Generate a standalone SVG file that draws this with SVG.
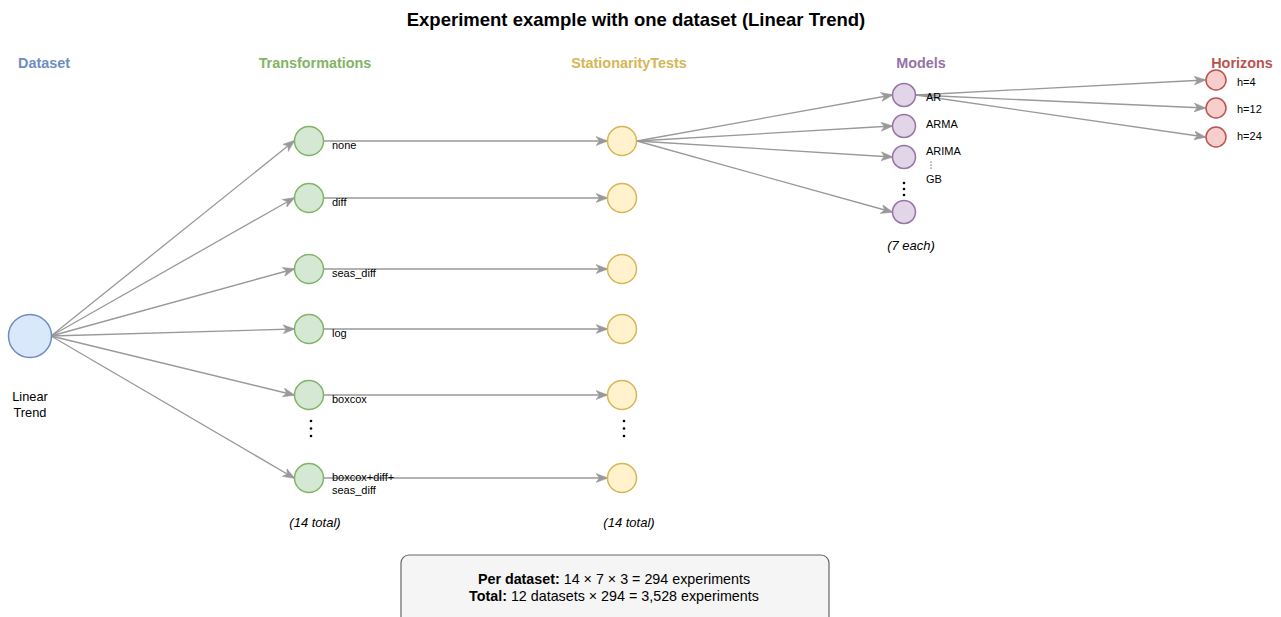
<svg xmlns="http://www.w3.org/2000/svg" width="1281" height="617" viewBox="0 0 1281 617">
<style>
text{font-family:"Liberation Sans",Arial,sans-serif;}
.hdr{font-size:14.4px;font-weight:bold;text-anchor:middle;}
.lbl{font-size:11px;fill:#000;}
.e{stroke:#999;stroke-width:1.3;fill:none;marker-end:url(#ah);}
.tr{fill:#d5e8d4;stroke:#82b366;stroke-width:1.5;}
.st{fill:#fff2cc;stroke:#d6b656;stroke-width:1.5;}
.md{fill:#e1d5e7;stroke:#9673a6;stroke-width:1.5;}
.hz{fill:#f8cecc;stroke:#b85450;stroke-width:1.5;}
.it{font-size:13px;font-style:italic;text-anchor:middle;}
.dot{fill:#000;}
</style>
<defs>
<marker id="ah" viewBox="0 0 12 10" refX="11" refY="5" markerWidth="12" markerHeight="10" markerUnits="userSpaceOnUse" orient="auto">
<path d="M0,0.5 L12,5 L0,9.5 L3.3,5 Z" fill="#999" stroke="#999" stroke-width="0.5"/>
</marker>
</defs>
<rect width="1281" height="617" fill="#fff"/>
<text x="636" y="26" font-size="18.5" font-weight="bold" text-anchor="middle">Experiment example with one dataset (Linear Trend)</text>
<text class="hdr" x="44" y="68" fill="#6c8ebf">Dataset</text>
<text class="hdr" x="315" y="68" fill="#82b366">Transformations</text>
<text class="hdr" x="629" y="68" fill="#d6b656">StationarityTests</text>
<text class="hdr" x="921" y="68" fill="#9673a6">Models</text>
<text class="hdr" x="1242" y="68" fill="#b85450">Horizons</text>

<g id="edges">
<line class="e" x1="51" y1="336" x2="294" y2="141"/>
<line class="e" x1="51" y1="336" x2="294" y2="198"/>
<line class="e" x1="51" y1="336" x2="294" y2="269"/>
<line class="e" x1="51" y1="336" x2="294" y2="329"/>
<line class="e" x1="51" y1="336" x2="294" y2="395"/>
<line class="e" x1="51" y1="336" x2="294" y2="478"/>
<line class="e" x1="324" y1="141" x2="607" y2="141"/>
<line class="e" x1="324" y1="198" x2="607" y2="198"/>
<line class="e" x1="324" y1="269" x2="607" y2="269"/>
<line class="e" x1="324" y1="329" x2="607" y2="329"/>
<line class="e" x1="324" y1="395" x2="607" y2="395"/>
<line class="e" x1="324" y1="478" x2="607" y2="478"/>
<line class="e" x1="637" y1="141" x2="892" y2="95"/>
<line class="e" x1="637" y1="141" x2="892" y2="126"/>
<line class="e" x1="637" y1="141" x2="892" y2="157"/>
<line class="e" x1="637" y1="141" x2="892" y2="212"/>
<line class="e" x1="916" y1="95" x2="1205" y2="80"/>
<line class="e" x1="916" y1="95" x2="1205" y2="108"/>
<line class="e" x1="916" y1="95" x2="1205" y2="137"/>
</g>

<g id="dataset">
<circle cx="30" cy="336" r="21.5" fill="#dae8fc" stroke="#6c8ebf" stroke-width="1.5"/>
<text x="30" y="401" font-size="12.8" text-anchor="middle">Linear</text>
<text x="30" y="417" font-size="12.8" text-anchor="middle">Trend</text>
</g>

<g id="t-none"><circle class="tr" cx="309" cy="141" r="14.5"/><text class="lbl" x="332" y="149">none</text></g>
<g id="t-diff"><circle class="tr" cx="309" cy="198" r="14.5"/><text class="lbl" x="332" y="206">diff</text></g>
<g id="t-seas"><circle class="tr" cx="309" cy="269" r="14.5"/><text class="lbl" x="332" y="277">seas_diff</text></g>
<g id="t-log"><circle class="tr" cx="309" cy="329" r="14.5"/><text class="lbl" x="332" y="337">log</text></g>
<g id="t-boxcox"><circle class="tr" cx="309" cy="395" r="14.5"/><text class="lbl" x="332" y="403">boxcox</text></g>
<g id="t-dots"><circle class="dot" cx="311" cy="421" r="1.3"/><circle class="dot" cx="311" cy="428.5" r="1.3"/><circle class="dot" cx="311" cy="436" r="1.3"/></g>
<g id="t-all"><circle class="tr" cx="309" cy="478" r="14.5"/><text class="lbl" x="332" y="481">boxcox+diff+</text><text class="lbl" x="332" y="494">seas_diff</text></g>
<text class="it" x="315" y="527">(14 total)</text>

<g id="s1"><circle class="st" cx="622" cy="141" r="14.5"/></g>
<g id="s2"><circle class="st" cx="622" cy="198" r="14.5"/></g>
<g id="s3"><circle class="st" cx="622" cy="269" r="14.5"/></g>
<g id="s4"><circle class="st" cx="622" cy="329" r="14.5"/></g>
<g id="s5"><circle class="st" cx="622" cy="395" r="14.5"/></g>
<g id="s-dots"><circle class="dot" cx="624" cy="421" r="1.3"/><circle class="dot" cx="624" cy="428.5" r="1.3"/><circle class="dot" cx="624" cy="436" r="1.3"/></g>
<g id="s6"><circle class="st" cx="622" cy="478" r="14.5"/></g>
<text class="it" x="629" y="527">(14 total)</text>

<g id="m-ar"><circle class="md" cx="904" cy="95" r="11.5"/><text class="lbl" x="926" y="101">AR</text></g>
<g id="m-arma"><circle class="md" cx="904" cy="126" r="11.5"/><text class="lbl" x="926" y="128">ARMA</text></g>
<g id="m-arima"><circle class="md" cx="904" cy="157" r="11.5"/><text class="lbl" x="926" y="155">ARIMA</text>
<circle class="dot" cx="931" cy="162" r="0.6"/><circle class="dot" cx="931" cy="165" r="0.6"/><circle class="dot" cx="931" cy="168" r="0.6"/>
<text class="lbl" x="926" y="183">GB</text></g>
<g id="m-dots"><circle class="dot" cx="904" cy="183" r="1.3"/><circle class="dot" cx="904" cy="189" r="1.3"/><circle class="dot" cx="904" cy="195" r="1.3"/></g>
<g id="m-last"><circle class="md" cx="904" cy="212" r="11.5"/></g>
<text class="it" x="911" y="250">(7 each)</text>

<g id="h4"><circle class="hz" cx="1216" cy="80" r="10"/><text class="lbl" x="1237" y="86">h=4</text></g>
<g id="h12"><circle class="hz" cx="1216" cy="108" r="10"/><text class="lbl" x="1237" y="113">h=12</text></g>
<g id="h24"><circle class="hz" cx="1216" cy="137" r="10"/><text class="lbl" x="1237" y="140">h=24</text></g>

<g id="summary">
<rect x="401" y="555" width="428" height="72" rx="8" fill="#f5f5f5" stroke="#666" stroke-width="1.2"/>
<text x="614" y="584" font-size="14.3" text-anchor="middle"><tspan font-weight="bold">Per dataset:</tspan> 14 × 7 × 3 = 294 experiments</text>
<text x="614" y="601" font-size="14.3" text-anchor="middle"><tspan font-weight="bold">Total:</tspan> 12 datasets × 294 = 3,528 experiments</text>
</g>
</svg>
